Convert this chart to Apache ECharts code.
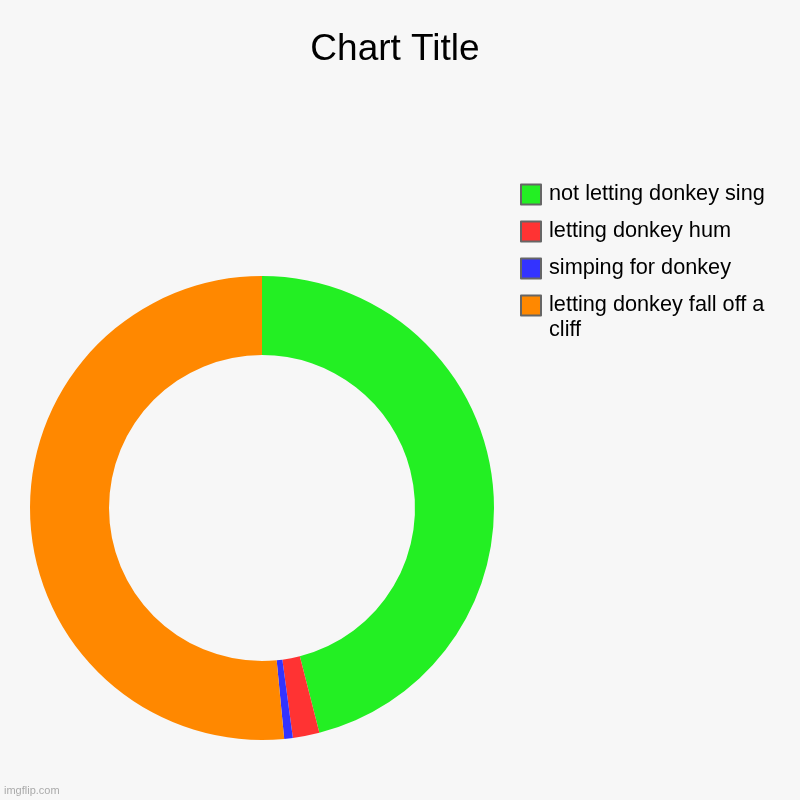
<!DOCTYPE html>
<html>
<head>
<meta charset="utf-8">
<script src="https://cdn.jsdelivr.net/npm/echarts@6/dist/echarts.min.js"></script>
<style>
html,body{margin:0;padding:0;background:#f7f7f7;}
#chart{width:800px;height:800px;}
</style>
</head>
<body>
<div id="chart"></div>
<script>
const categories = ['not letting donkey sing', 'letting donkey hum', 'simping for donkey', 'letting donkey fall off a cliff'];
const values = [46, 1.85, 0.6, 51.5];
const colors = ['#23ef23', '#ff3333', '#3333ff', '#ff8800'];

const chart = echarts.init(document.getElementById('chart'), null, {renderer: 'canvas'});
const font = '"Liberation Sans", Arial, sans-serif';

const legendBase = {
  orient: 'vertical',
  left: 520,
  padding: 0,
  itemWidth: 20,
  itemHeight: 20,
  itemGap: 12,
  icon: 'rect',
  selectedMode: false,
  itemStyle: {borderColor: '#666', borderWidth: 2},
  textStyle: {fontFamily: font, fontSize: 21.7, color: '#000', width: 225, overflow: 'break', lineHeight: 25, padding: [0, 0, 0, 3]}
};

chart.setOption({
  backgroundColor: '#f7f7f7',
  animation: false,
  title: {
    text: 'Chart Title',
    left: 390,
    top: 26,
    textAlign: 'center',
    textStyle: {fontFamily: font, fontSize: 37, fontWeight: 'normal', color: '#000'}
  },
  legend: [
    Object.assign({}, legendBase, {top: 182, data: categories.slice(0, 3)}),
    Object.assign({}, legendBase, {top: 268, data: categories.slice(3), formatter: n => '\n' + n})
  ],
  graphic: [{
    type: 'text',
    left: 4,
    top: 785,
    style: {text: 'imgflip.com', fontFamily: font, fontSize: 11, fill: '#aaaaaa'}
  }],
  series: [{
    type: 'pie',
    center: [262, 508],
    radius: [153, 232],
    startAngle: 90,
    clockwise: true,
    label: {show: false},
    labelLine: {show: false},
    emphasis: {disabled: true},
    itemStyle: {borderWidth: 0},
    data: categories.map((c, i) => ({name: c, value: values[i], itemStyle: {color: colors[i]}}))
  }]
});
</script>
</body>
</html>
